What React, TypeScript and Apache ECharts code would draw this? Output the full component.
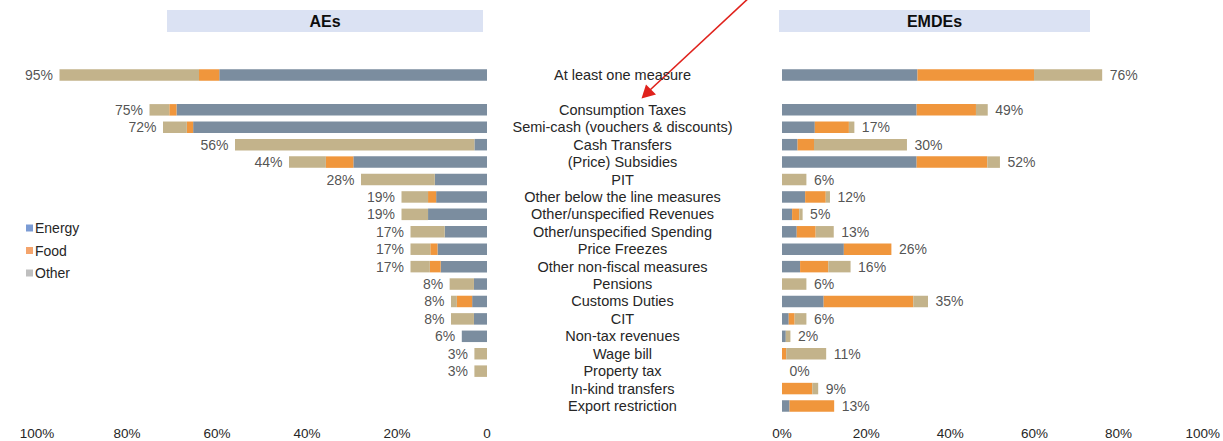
import React, { useEffect, useRef } from "react";
import * as echarts from "echarts";

const categories = [
  "At least one measure",
  "",
  "Consumption Taxes",
  "Semi-cash (vouchers & discounts)",
  "Cash Transfers",
  "(Price) Subsidies",
  "PIT",
  "Other below the line measures",
  "Other/unspecified Revenues",
  "Other/unspecified Spending",
  "Price Freezes",
  "Other non-fiscal measures",
  "Pensions",
  "Customs Duties",
  "CIT",
  "Non-tax revenues",
  "Wage bill",
  "Property tax",
  "In-kind transfers",
  "Export restriction",
];

// AEs
const aeEnergy = [59.5, null, 69, 65.3, 2.8, 29.7, 11.6, 11.3, 13.1, 9.4, 11, 10.3, 2.9, 3.3, 2.9, 5.6, 0, 0, 0, 0];
const aeFood = [4.5, null, 1.6, 1.4, 0, 6.1, 0, 1.8, 0, 0, 1.6, 2.4, 0, 3.4, 0, 0, 0, 0, 0, 0];
const aeOther = [31, null, 4.4, 5.3, 53.2, 8.2, 16.4, 5.9, 5.9, 7.6, 4.4, 4.3, 5.4, 1.3, 5.1, 0, 2.8, 2.8, 0, 0];
const aeTotals = [95, null, 75, 72, 56, 44, 28, 19, 19, 17, 17, 17, 8, 8, 8, 6, 3, 3, null, null];

// EMDEs
const emEnergy = [32.2, null, 32.0, 7.8, 3.7, 32.0, 0, 5.5, 2.4, 3.5, 14.7, 4.3, 0, 9.9, 1.6, 0.9, 0, 0, 0, 1.8];
const emFood = [27.7, null, 14.1, 8.1, 3.9, 16.8, 0, 4.9, 1.7, 4.5, 11.3, 6.7, 0, 21.3, 1.4, 0, 1.0, 0, 7.2, 10.6];
const emOther = [16.2, null, 2.8, 1.3, 22.1, 3.0, 5.8, 1.0, 0.8, 4.3, 0, 5.3, 5.8, 3.5, 2.8, 1.1, 9.5, 0, 1.4, 0];
const emTotals = [76, null, 49, 17, 30, 52, 6, 12, 5, 13, 26, 16, 6, 35, 6, 2, 11, 0, 9, 13];

const COLORS = { Energy: "#7b8d9f", Food: "#f0963c", Other: "#c3b38b" };
const LEGEND_COLORS = { Energy: "#7b9bd4", Food: "#f4a46c", Other: "#bfbfbf" };

const FONT = "Liberation Sans, Arial, sans-serif";
const TEXT_COLOR = "#262626";

function sumAt(arrs: (number | null)[][], i: number): number {
  let s = 0;
  for (const a of arrs) s += (a[i] as number) || 0;
  return s;
}

export default function App() {
  const ref = useRef<HTMLDivElement>(null);

  useEffect(() => {
    if (!ref.current) return;
    const chart = echarts.init(ref.current, null, { renderer: "svg" });

    const gridTop = 66.3;
    const gridHeight = 348.4;

    const barSeries = (name: string, data: (number | null)[], idx: number, stack: string) => ({
      type: "bar",
      name,
      stack,
      xAxisIndex: idx,
      yAxisIndex: idx,
      data,
      barWidth: 11.5,
      itemStyle: { color: (COLORS as any)[name] },
      emphasis: { disabled: true },
    });

    const aeLabelPts = categories
      .map((c, i) => (aeTotals[i] === null ? null : [sumAt([aeEnergy, aeFood, aeOther], i), c, aeTotals[i]]))
      .filter((d) => d !== null);
    const emLabelPts = categories
      .map((c, i) => (emTotals[i] === null ? null : [sumAt([emEnergy, emFood, emOther], i), c, emTotals[i]]))
      .filter((d) => d !== null);

    const totalLabel = (pos: string, dist: number) => ({
      show: true,
      position: pos,
      distance: dist,
      fontSize: 14,
      color: TEXT_COLOR,
      fontFamily: FONT,
      formatter: (p: any) => p.data[2] + "%",
    });

    const option: any = {
      animation: false,
      textStyle: { fontFamily: FONT },
      legend: {
        orient: "vertical",
        left: 21,
        top: 216,
        itemWidth: 7,
        itemHeight: 7,
        itemGap: 8.5,
        icon: "rect",
        textStyle: { fontSize: 14, color: TEXT_COLOR, fontFamily: FONT, padding: [0, 0, 0, -3] },
        selectedMode: false,
        data: [
          { name: "Energy", itemStyle: { color: LEGEND_COLORS.Energy } },
          { name: "Food", itemStyle: { color: LEGEND_COLORS.Food } },
          { name: "Other", itemStyle: { color: LEGEND_COLORS.Other } },
        ],
      },
      grid: [
        { left: 37, width: 450, top: gridTop, height: gridHeight, containLabel: false },
        { left: 782, width: 423, top: gridTop, height: gridHeight, containLabel: false },
      ],
      xAxis: [
        {
          gridIndex: 0,
          type: "value",
          inverse: true,
          min: 0,
          max: 100,
          interval: 20,
          axisLine: { show: false },
          axisTick: { show: false },
          splitLine: { show: false },
          axisLabel: {
            margin: 12,
            fontSize: 13.5,
            color: TEXT_COLOR,
            fontFamily: FONT,
            formatter: (v: number) => (v === 0 ? "0" : v + "%"),
          },
        },
        {
          gridIndex: 1,
          type: "value",
          min: 0,
          max: 100,
          interval: 20,
          axisLine: { show: false },
          axisTick: { show: false },
          splitLine: { show: false },
          axisLabel: {
            margin: 12,
            fontSize: 13.5,
            color: TEXT_COLOR,
            fontFamily: FONT,
            formatter: (v: number) => v + "%",
          },
        },
      ],
      yAxis: [
        {
          gridIndex: 0,
          type: "category",
          inverse: true,
          data: categories,
          axisLine: { show: false },
          axisTick: { show: false },
          axisLabel: { show: false },
        },
        {
          gridIndex: 1,
          type: "category",
          inverse: true,
          data: categories,
          axisLine: { show: false },
          axisTick: { show: false },
          axisLabel: {
            show: true,
            align: "center",
            margin: 159.5,
            fontSize: 14.5,
            color: TEXT_COLOR,
            fontFamily: FONT,
            interval: 0,
          },
        },
      ],
      series: [
        barSeries("Energy", aeEnergy, 0, "ae"),
        barSeries("Food", aeFood, 0, "ae"),
        barSeries("Other", aeOther, 0, "ae"),
        barSeries("Energy", emEnergy, 1, "em"),
        barSeries("Food", emFood, 1, "em"),
        barSeries("Other", emOther, 1, "em"),
        {
          type: "scatter",
          name: "aeTotals",
          xAxisIndex: 0,
          yAxisIndex: 0,
          symbolSize: 1,
          itemStyle: { color: "rgba(0,0,0,0)" },
          data: aeLabelPts,
          label: totalLabel("left", 6),
          emphasis: { disabled: true },
          silent: true,
        },
        {
          type: "scatter",
          name: "emTotals",
          xAxisIndex: 1,
          yAxisIndex: 1,
          symbolSize: 1,
          itemStyle: { color: "rgba(0,0,0,0)" },
          data: emLabelPts,
          label: totalLabel("right", 7),
          emphasis: { disabled: true },
          silent: true,
        },
      ],
      graphic: [
        {
          type: "rect",
          shape: { x: 167, y: 10, width: 316, height: 22 },
          style: { fill: "#dbe2f3" },
          silent: true,
        },
        {
          type: "text",
          x: 325,
          y: 21.5,
          style: {
            text: "AEs",
            fontSize: 16,
            fontWeight: "bold",
            fill: "#0d0d0d",
            align: "center",
            verticalAlign: "middle",
            fontFamily: FONT,
          },
        },
        {
          type: "rect",
          shape: { x: 779, y: 10, width: 311, height: 22 },
          style: { fill: "#dbe2f3" },
          silent: true,
        },
        {
          type: "text",
          x: 934.5,
          y: 21.5,
          style: {
            text: "EMDEs",
            fontSize: 16,
            fontWeight: "bold",
            fill: "#0d0d0d",
            align: "center",
            verticalAlign: "middle",
            fontFamily: FONT,
          },
        },
        {
          type: "line",
          shape: { x1: 752, y1: -5, x2: 650, y2: 90 },
          style: { stroke: "#e0221c", lineWidth: 1.6 },
          silent: true,
        },
        {
          type: "polygon",
          shape: { points: [[641.5, 98.5], [646, 84.5], [656, 94.5]] },
          style: { fill: "#e0221c" },
          silent: true,
        },
      ],
    };

    chart.setOption(option);
    return () => chart.dispose();
  }, []);

  return (
    <div
      ref={ref}
      style={{ position: "absolute", left: 0, top: 0, width: 1223, height: 441, background: "#fff" }}
    />
  );
}
